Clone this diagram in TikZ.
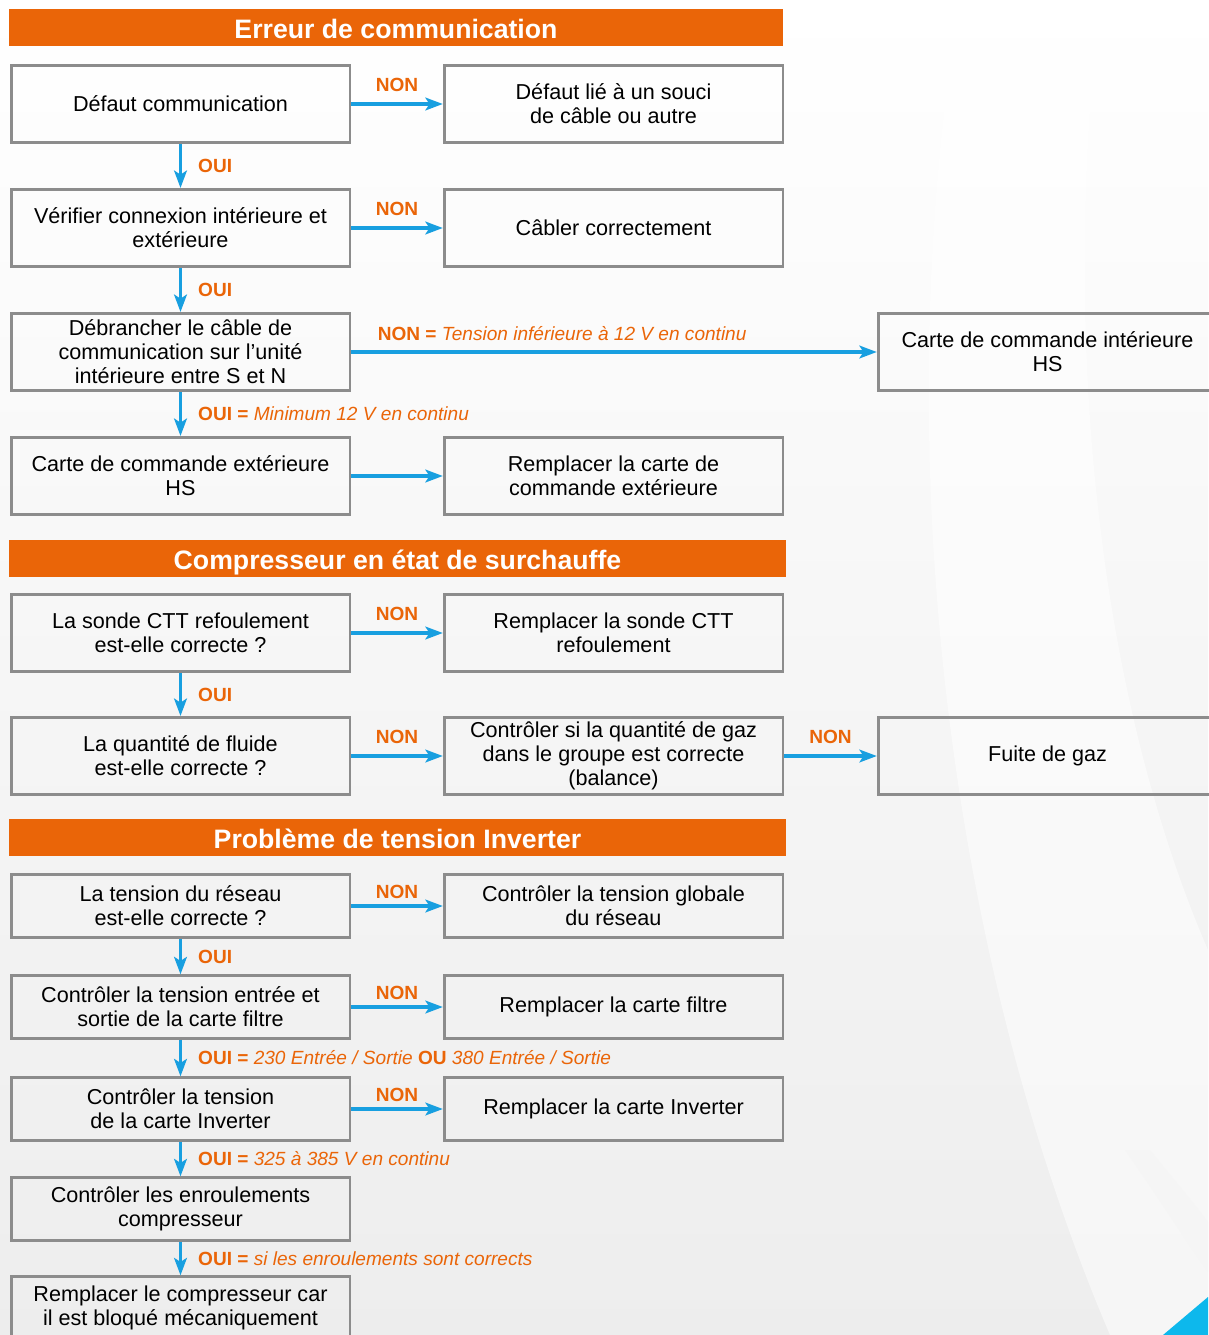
\documentclass[tikz,border=0pt]{standalone}
\usepackage{fontspec}
\setmainfont{Liberation Sans}
\usetikzlibrary{arrows.meta,positioning}

\definecolor{headorange}{HTML}{EA6508}
\definecolor{flowblue}{HTML}{189FE0}
\definecolor{boxgray}{HTML}{8C8C8C}
\definecolor{cornerblue}{HTML}{0DB8EC}

\begin{document}
\begin{tikzpicture}[
    x=0.75pt, y=-0.75pt,
    header/.style={fill=headorange, text=white, inner sep=0pt, minimum height=27.75pt,
        text height=17pt, text depth=0pt, font=\fontsize{20}{24}\selectfont\bfseries},
    box/.style={draw=boxgray, line width=2pt, align=center, inner sep=1.5pt,
        minimum width=254pt, font=\fontsize{16.2}{18}\selectfont},
    tall/.style={minimum height=58pt},
    flat/.style={minimum height=47pt},
    link/.style={draw=flowblue, line width=2.5pt, -{Stealth[length=13pt,width=9.5pt,inset=3pt]}},
    answer/.style={text=headorange, inner sep=0pt, font=\fontsize{14.3}{16}\selectfont\bfseries},
    note/.style={text=headorange, inner sep=0pt, font=\fontsize{14.3}{16}\selectfont}
]
    % Background
    \fill[top color=white, bottom color=black!7] (0,0) rectangle (1208,1335);
    \useasboundingbox (0,0) rectangle (1208,1335);
    \fill[white, opacity=.5] (960,0) .. controls (895,380) and (925,900) .. (1110,1335)
        -- (1208,1335) -- (1208,950) .. controls (1100,700) and (1060,350) .. (1100,0) -- cycle;
    \fill[black!4] (1125,1150) .. controls (1160,1200) and (1185,1240) .. (1208,1272)
        -- (1208,1222) .. controls (1190,1198) and (1170,1175) .. (1150,1150) -- cycle;
    \fill[cornerblue] (1163,1335) -- (1208,1297) -- (1208,1335) -- cycle;

    % Erreur de communication
    \node[header, minimum width=580.5pt] (head1) at (396,27.5) {Erreur de communication};
    \node[box, tall] (com) at (180.5,104) {Défaut communication};
    \node[box, tall] (cable) at (613.5,104) {Défaut lié à un souci\\de câble ou autre};
    \node[box, tall] (verif) at (180.5,228) {Vérifier connexion intérieure et\\extérieure};
    \node[box, tall] (cabler) at (613.5,228) {Câbler correctement};
    \node[box, tall] (debr) at (180.5,352) {Débrancher le câble de\\communication sur l’unité\\intérieure entre S et N};
    \node[box, tall] (intHS) at (1047.5,352) {Carte de commande intérieure\\HS};
    \node[box, tall] (extHS) at (180.5,476) {Carte de commande extérieure\\HS};
    \node[box, tall] (extRep) at (613.5,476) {Remplacer la carte de\\commande extérieure};

    \draw[link] (com) -- node[answer, above=8pt] {NON} (cable);
    \draw[link] (com) -- node[answer, right=12pt] {OUI} (verif);
    \draw[link] (verif) -- node[answer, above=8pt] {NON} (cabler);
    \draw[link] (verif) -- node[answer, right=12pt] {OUI} (debr);
    \draw[link] (debr) -- node[note, pos=0, above right=7.5pt and 18.75pt]
        {\textbf{NON =} \textit{Tension inférieure à 12 V en continu}} (intHS);
    \draw[link] (debr) -- node[note, right=12pt] {\textbf{OUI =} \textit{Minimum 12 V en continu}} (extHS);
    \draw[link] (extHS) -- (extRep);

    % Compresseur en etat de surchauffe
    \node[header, minimum width=582.75pt] (head2) at (397.5,558.5) {Compresseur en état de surchauffe};
    \node[box, tall] (sonde) at (180.5,633) {La sonde CTT refoulement\\est-elle correcte ?};
    \node[box, tall] (sondeRep) at (613.5,633) {Remplacer la sonde CTT\\refoulement};
    \node[box, tall] (fluide) at (180.5,756) {La quantité de fluide\\est-elle correcte ?};
    \node[box, tall] (gaz) at (613.5,756) {Contrôler si la quantité de gaz\\dans le groupe est correcte\\(balance)};
    \node[box, tall] (fuite) at (1047.5,756) {Fuite de gaz};

    \draw[link] (sonde) -- node[answer, above=8pt] {NON} (sondeRep);
    \draw[link] (sonde) -- node[answer, right=12pt] {OUI} (fluide);
    \draw[link] (fluide) -- node[answer, above=8pt] {NON} (gaz);
    \draw[link] (gaz) -- node[answer, above=8pt] {NON} (fuite);

    % Probleme de tension Inverter
    \node[header, minimum width=582.75pt] (head3) at (397.5,837.5) {Problème de tension Inverter};
    \node[box, flat] (reseau) at (180.5,906) {La tension du réseau\\est-elle correcte ?};
    \node[box, flat] (globale) at (613.5,906) {Contrôler la tension globale\\du réseau};
    \node[box, flat] (filtre) at (180.5,1007) {Contrôler la tension entrée et\\sortie de la carte filtre};
    \node[box, flat] (filtreRep) at (613.5,1007) {Remplacer la carte filtre};
    \node[box, flat] (inv) at (180.5,1109) {Contrôler la tension\\de la carte Inverter};
    \node[box, flat] (invRep) at (613.5,1109) {Remplacer la carte Inverter};
    \node[box, flat] (enroul) at (180.5,1209) {Contrôler les enroulements\\compresseur};
    \node[box, flat] (compRep) at (180.5,1308) {Remplacer le compresseur car\\il est bloqué mécaniquement};

    \draw[link] (reseau) -- node[answer, above=4.5pt] {NON} (globale);
    \draw[link] (reseau) -- node[answer, right=12pt] {OUI} (filtre);
    \draw[link] (filtre) -- node[answer, above=4.5pt] {NON} (filtreRep);
    \draw[link] (filtre) -- node[note, right=12pt]
        {\textbf{OUI =} \textit{230 Entrée / Sortie} \textbf{OU} \textit{380 Entrée / Sortie}} (inv);
    \draw[link] (inv) -- node[answer, above=4.5pt] {NON} (invRep);
    \draw[link] (inv) -- node[note, right=12pt] {\textbf{OUI =} \textit{325 à 385 V en continu}} (enroul);
    \draw[link] (enroul) -- node[note, right=12pt] {\textbf{OUI =} \textit{si les enroulements sont corrects}} (compRep);
\end{tikzpicture}
\end{document}
